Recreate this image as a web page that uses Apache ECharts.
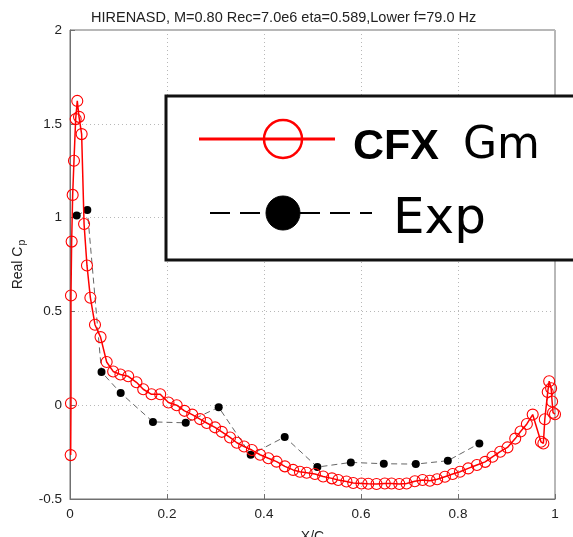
<!DOCTYPE html>
<html><head><meta charset="utf-8">
<script src="https://cdn.jsdelivr.net/npm/echarts@6/dist/echarts.min.js"></script>
<style>html,body{margin:0;padding:0;background:#fff}#c{width:573px;height:537px}</style>
</head><body><div id="c"></div>
<script>
const titleText = "HIRENASD, M=0.80 Rec=7.0e6 eta=0.589,Lower f=79.0 Hz";
const xName = "X/C";
const cfxName = "CFX";
const cfxName2 = "Gm";
const expName = "Exp";

const cfxX = [0.0014, 0.002, 0.002, 0.0034, 0.0055, 0.0082, 0.0117, 0.015, 0.0186, 0.024, 0.029, 0.035, 0.042, 0.0515, 0.063, 0.0756,
  0.089, 0.104, 0.120, 0.137, 0.151, 0.168, 0.186, 0.203, 0.220, 0.236, 0.252, 0.268, 0.282, 0.299, 0.313, 0.330, 0.344, 0.359,
  0.375, 0.392, 0.409, 0.426, 0.443, 0.460, 0.474, 0.488, 0.505, 0.522, 0.540, 0.553, 0.570, 0.584, 0.601, 0.615, 0.632, 0.649,
  0.663, 0.679, 0.694, 0.711, 0.727, 0.742, 0.757, 0.773, 0.789, 0.804, 0.821, 0.839, 0.856, 0.871, 0.887, 0.902, 0.918, 0.929,
  0.942, 0.954, 0.971, 0.976, 0.979, 0.985, 0.988, 0.992, 0.994, 0.996, 1.0];
const cfxY = [-0.266, 0.01, 0.585, 0.872, 1.121, 1.303, 1.525, 1.622, 1.537, 1.445, 0.966, 0.745, 0.573, 0.429, 0.363, 0.23,
  0.18, 0.164, 0.154, 0.122, 0.085, 0.058, 0.058, 0.014, 0.0, -0.03, -0.05, -0.074, -0.095, -0.118, -0.142, -0.172, -0.2, -0.22,
  -0.239, -0.264, -0.283, -0.301, -0.326, -0.345, -0.355, -0.36, -0.367, -0.38, -0.39, -0.399, -0.407, -0.415, -0.417, -0.419, -0.42, -0.417,
  -0.417, -0.42, -0.417, -0.405, -0.399, -0.403, -0.395, -0.381, -0.367, -0.355, -0.337, -0.319, -0.302, -0.275, -0.248, -0.225, -0.178, -0.14,
  -0.1, -0.05, -0.195, -0.204, -0.075, 0.07, 0.128, 0.09, 0.02, -0.04, -0.048];

const expX = [0.0138, 0.0357, 0.065, 0.1045, 0.171, 0.2386, 0.3066, 0.3726, 0.4427, 0.51, 0.579, 0.647, 0.713, 0.779, 0.844];
const expY = [1.011, 1.041, 0.177, 0.065, -0.089, -0.094, -0.011, -0.264, -0.169, -0.33, -0.305, -0.312, -0.314, -0.296, -0.204];

const xTicks = [0, 0.2, 0.4, 0.6, 0.8, 1];
const yTicks = [-0.5, 0, 0.5, 1, 1.5, 2];

const FONT = "'Liberation Sans', Arial, sans-serif";
const chart = echarts.init(document.getElementById('c'), null, {renderer: 'canvas'});

const cfxData = cfxX.map((x, i) => [x, cfxY[i]]);
const expData = expX.map((x, i) => [x, expY[i]]);

const axisCommon = {
  axisLine: {show: true, onZero: false, lineStyle: {color: '#707070', width: 1}},
  axisTick: {show: true, inside: true, length: 5, lineStyle: {color: '#707070'}},
  splitLine: {show: true, lineStyle: {color: '#b8b8b8', type: [1, 3], width: 1}},
  axisLabel: {color: '#222', fontSize: 13, fontFamily: FONT}
};

chart.setOption({
  animation: false,
  backgroundColor: '#fff',
  title: {
    text: titleText, left: 86, top: 5,
    textStyle: {fontSize: 14.5, fontWeight: 'normal', color: '#222', fontFamily: FONT}
  },
  grid: {left: 70, right: 18, top: 30, bottom: 38, show: true, borderColor: '#707070', borderWidth: 1,
         containLabel: false, outerBoundsMode: 'none'},
  xAxis: Object.assign({
    type: 'value', min: xTicks[0], max: xTicks[xTicks.length - 1], interval: 0.2,
    name: xName, nameLocation: 'middle', nameGap: 31,
    nameTextStyle: {fontSize: 14, color: '#222', fontFamily: FONT}
  }, axisCommon, {axisLabel: {color: '#222', fontSize: 13.5, fontFamily: FONT, margin: 8}}),
  yAxis: Object.assign({
    type: 'value', min: yTicks[0], max: yTicks[yTicks.length - 1], interval: 0.5,
    name: '{a|Real C}{b|p}', nameLocation: 'middle', nameGap: 41, nameRotate: 90,
    nameTextStyle: {fontSize: 14, color: '#222', fontFamily: FONT,
      rich: {a: {fontSize: 14, color: '#222', fontFamily: FONT},
             b: {fontSize: 10.5, color: '#222', fontFamily: FONT, padding: [9, 0, 0, 1]}}}
  }, axisCommon, {axisLabel: {color: '#222', fontSize: 13.5, fontFamily: FONT}}),
  series: [
    {
      type: 'line', name: expName, data: expData,
      symbol: 'circle', symbolSize: 8,
      itemStyle: {color: '#000'},
      lineStyle: {color: '#666', width: 1, type: [6, 4]},
      z: 2
    },
    {
      type: 'line', name: cfxName, data: cfxData,
      symbol: 'circle', symbolSize: 11,
      itemStyle: {color: 'rgba(255,255,255,0)', borderColor: '#ff0000', borderWidth: 1.1},
      lineStyle: {color: '#ff0000', width: 1.5},
      z: 3
    }
  ],
  graphic: [
    {type: 'rect', z: 100, shape: {x: 166, y: 96, width: 430, height: 164},
     style: {fill: '#fff', stroke: '#111', lineWidth: 3}},
    {type: 'line', z: 101, shape: {x1: 199, y1: 139, x2: 335, y2: 139},
     style: {stroke: '#ff0000', lineWidth: 3}},
    {type: 'circle', z: 102, shape: {cx: 283, cy: 139, r: 19},
     style: {fill: 'none', stroke: '#ff0000', lineWidth: 2.5}},
    {type: 'text', z: 101, x: 353, y: 147,
     style: {text: cfxName, font: "bold 43px 'Liberation Sans', Arial, sans-serif", fill: '#000', textVerticalAlign: 'middle', verticalAlign: 'middle'}},
    {type: 'text', z: 101, x: 463, y: 147,
     style: {text: cfxName2, font: "44px 'DejaVu Sans', sans-serif", fill: '#000', textVerticalAlign: 'middle', verticalAlign: 'middle'}},
    {type: 'line', z: 101, shape: {x1: 210, y1: 213, x2: 372, y2: 213},
     style: {stroke: '#000', lineWidth: 2, lineDash: [20, 10]}},
    {type: 'circle', z: 102, shape: {cx: 283, cy: 213, r: 17},
     style: {fill: '#000', stroke: '#000'}},
    {type: 'text', z: 101, x: 393, y: 220,
     style: {text: expName, font: "50px 'DejaVu Sans', sans-serif", fill: '#000', textVerticalAlign: 'middle', verticalAlign: 'middle'}}
  ]
});
</script>
</body></html>
